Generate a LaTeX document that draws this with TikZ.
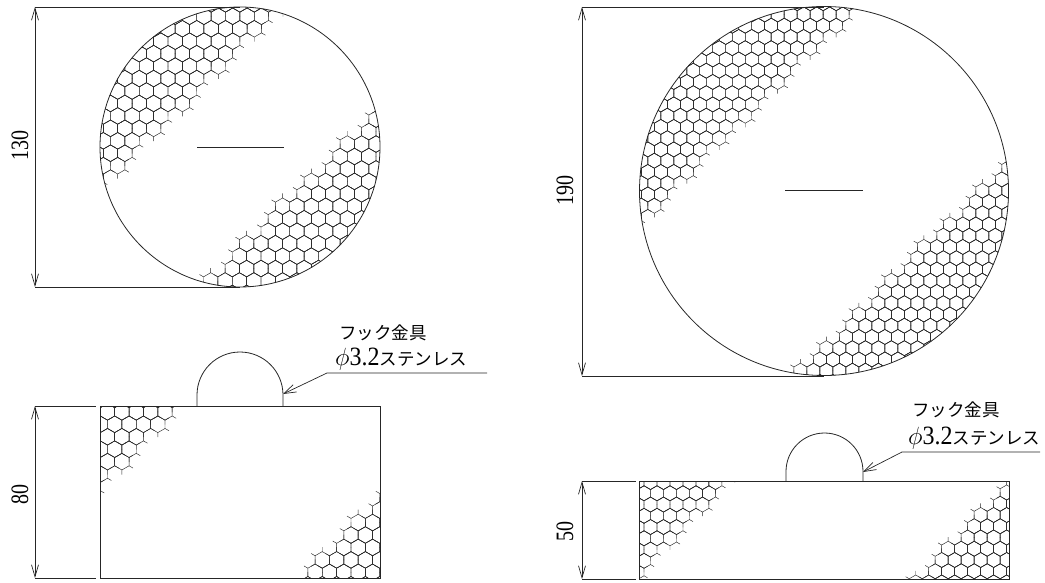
\documentclass[tikz,border=0pt]{standalone}
\usepackage{fontspec}
\setmainfont{Liberation Serif}
\newfontfamily\cjk{Noto Sans CJK JP}
\usetikzlibrary{arrows.meta}

% centre x, centre y, side, lowest and highest x+y of a cell, then the box x1, x2, y1, y2
\newcommand{\honeycomb}[9]{%
  \pgfmathsetmacro{\hexw}{#3*0.866}
  \pgfmathsetmacro{\hexr}{#3*1.5}
  \pgfmathsetmacro{\hexs}{#3*1.55}
  \foreach \j in {-30,...,30}{
    \foreach \i in {-30,...,30}{
      \pgfmathsetmacro{\cx}{#1+2*\hexw*\i+\hexw*mod(abs(\j),2)}
      \pgfmathsetmacro{\cy}{#2+\hexr*\j}
      \pgfmathparse{and(and(\cx+\cy>=#4,\cx+\cy<=#5),and(and(\cx>=#6,\cx<=#7),and(\cy>=#8,\cy<=#9)))}
      \ifnum\pgfmathresult=1
        \draw[honey] (\cx,\cy) \foreach \a in {30,90,...,330}{ +(\a:#3) -- +(\a+60:#3) +(\a:#3) -- +(\a:\hexs) };
      \fi
    }
  }
}
\newcommand{\tallnum}[1]{\scalebox{1}[1.25]{#1}}

\begin{document}
\begin{tikzpicture}[x=1pt,y=-1pt,
  outline/.style={line width=0.8pt,black!85},
  honey/.style={line width=0.45pt,black!85},
  dimline/.style={line width=0.7pt,black!85,{Straight Barb[length=12pt,width=7pt]}-{Straight Barb[length=12pt,width=7pt]}},
  extline/.style={line width=0.7pt,black!85},
  leader/.style={line width=0.7pt,black!85,-{Straight Barb[length=12pt,width=8pt]}},
  dimtext/.style={rotate=90,font=\fontsize{20}{20}\selectfont,inner sep=0pt},
  hooktext/.style={anchor=west,font=\fontsize{17.5}{17.5}\selectfont,inner sep=0pt}]
\useasboundingbox (0,0) rectangle (1045,583);

% small disc
\begin{scope}
\clip (240,147) circle [radius=140];
\honeycomb{117.7}{165.7}{8.3}{0}{287}{90}{290}{0}{200}
\honeycomb{210.7}{281}{8.3}{488}{3000}{190}{390}{100}{300}
\end{scope}
\draw[outline] (240,147) circle [radius=140];
\coordinate (sl) at (197,147);
\coordinate (sr) at (284,147);
\draw[extline] (sl) -- (sr);
\coordinate (st) at (35,7);
\coordinate (sb) at (35,287);
\coordinate (ste) at (240,7);
\coordinate (sbe) at (240,287);
\draw[extline] (st) -- (ste);
\draw[extline] (sb) -- (sbe);
\draw[dimline] (st) -- (sb);
\node[dimtext] (sdim) at (20,146) {\tallnum{130}};

% large disc
\begin{scope}
\clip (824,191) circle [radius=184.5];
\honeycomb{654.3}{205.7}{7.5}{0}{862}{630}{860}{0}{240}
\honeycomb{982.3}{190.7}{7.5}{1170}{3000}{790}{1020}{140}{385}
\end{scope}
\draw[outline] (824,191) circle [radius=184.5];
\coordinate (bl) at (785,190);
\coordinate (br) at (863,190);
\draw[extline] (bl) -- (br);
\coordinate (bt) at (582,7);
\coordinate (bb) at (582,376);
\coordinate (bte) at (824,7);
\coordinate (bbe) at (824,376);
\draw[extline] (bt) -- (bte);
\draw[extline] (bb) -- (bbe);
\draw[dimline] (bt) -- (bb);
\node[dimtext] (bdim) at (565,191) {\tallnum{190}};

% small side view
\begin{scope}
\clip (100,406) rectangle (380,578);
\honeycomb{114.7}{424.3}{8.3}{0}{585}{90}{190}{395}{500}
\honeycomb{351}{535}{8.3}{880}{3000}{290}{390}{490}{590}
\end{scope}
\draw[outline] (100,406) rectangle (380,578);
\draw[outline] (197,406) -- (197,395) arc (180:360:43) -- (283,406);
\coordinate (lt) at (35,406);
\coordinate (lb) at (35,578);
\coordinate (lte) at (96,406);
\coordinate (lbe) at (96,578);
\draw[extline] (lt) -- (lte);
\draw[extline] (lb) -- (lbe);
\draw[dimline] (lt) -- (lb);
\node[dimtext] (ldim) at (20,494) {\tallnum{80}};
\coordinate (lend) at (487,373);
\coordinate (lknee) at (327,373);
\coordinate (ltip) at (283,394);
\draw[leader] (lend) -- (lknee) -- (ltip);
\node[hooktext] (lname) at (339,333) {\cjk フック金具};
\node[hooktext] (lsize) at (335,359) {{\fontsize{24}{24}\selectfont$\phi$}\scalebox{1}[1.1]{\fontsize{24}{24}\selectfont 3.2}{\cjk ステンレス}};

% large side view
\begin{scope}
\clip (639,481) rectangle (1009,579);
\honeycomb{657}{493.3}{7.5}{0}{1210}{630}{740}{470}{590}
\honeycomb{941.7}{560}{7.5}{1495}{3000}{910}{1020}{470}{590}
\end{scope}
\draw[outline] (639,481) rectangle (1009,579);
\draw[outline] (786,481) -- (786,471.5) arc (180:360:38.5) -- (863,481);
\coordinate (rt) at (582,481);
\coordinate (rb) at (582,579);
\coordinate (rte) at (636,481);
\coordinate (rbe) at (636,579);
\draw[extline] (rt) -- (rte);
\draw[extline] (rb) -- (rbe);
\draw[dimline] (rt) -- (rb);
\node[dimtext] (rdim) at (565,531) {\tallnum{50}};
\coordinate (rend) at (1040,452);
\coordinate (rknee) at (902,452);
\coordinate (rtip) at (863,472);
\draw[leader] (rend) -- (rknee) -- (rtip);
\node[hooktext] (rname) at (912,410) {\cjk フック金具};
\node[hooktext] (rsize) at (908,438) {{\fontsize{24}{24}\selectfont$\phi$}\scalebox{1}[1.1]{\fontsize{24}{24}\selectfont 3.2}{\cjk ステンレス}};
\end{tikzpicture}
\end{document}
